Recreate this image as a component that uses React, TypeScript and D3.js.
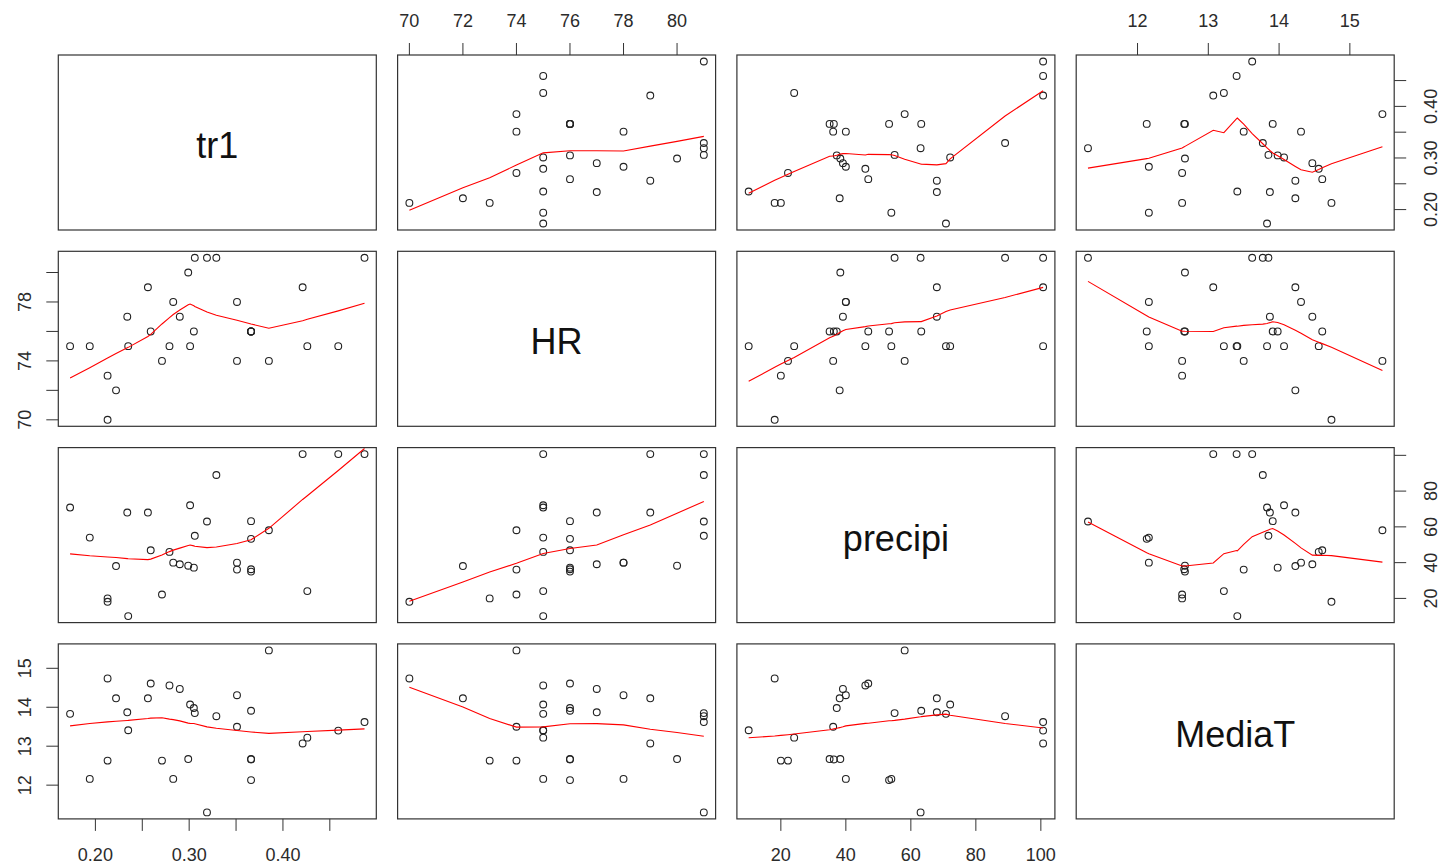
import React from 'react';
import * as d3 from 'd3';

const width = 1442;
const height = 868;

// variables of the scatterplot matrix
const varNames = ['tr1', 'HR', 'precipi', 'MediaT'];

const tr1 = [0.173, 0.194, 0.213, 0.213, 0.222, 0.234, 0.235, 0.256, 0.259, 0.271, 0.279, 0.283, 0.29, 0.299, 0.301,
  0.305, 0.306, 0.319, 0.329, 0.351, 0.351, 0.366, 0.366, 0.366, 0.366, 0.385, 0.421, 0.426, 0.459, 0.487];
const HR = [75, 75, 70, 73, 72, 77, 75, 79, 76, 74, 75, 78, 77, 80, 75,
  76, 81, 81, 81, 78, 74, 76, 76, 76, 76, 74, 79, 75, 75, 81];
const precipi = [70.8, 54.0, 18.1, 20.0, 38.1, 68.0, 10.1, 68.0, 46.9, 22.2, 46.0, 40.0, 39.1, 38.3, 72.1,
  37.2, 55.0, 63.0, 89.0, 40.0, 36.1, 63.2, 35.0, 36.3, 53.3, 58.1, 100.7, 24.1, 100.7, 100.7];
const MediaT = [13.83, 12.16, 14.74, 12.63, 14.23, 13.87, 13.41, 14.23, 14.61, 12.63, 14.56, 12.16, 14.47, 12.67, 14.07,
  13.98, 13.85, 11.3, 13.77, 14.31, 13.5, 13.91, 12.67, 12.66, 12.13, 15.46, 13.07, 13.22, 13.4, 13.62];

// tick positions and which of them carry a label (R drops the crowded ones)
const tr1Ticks = [0.2, 0.25, 0.3, 0.35, 0.4, 0.45];
const tr1Labeled = [0.2, 0.3, 0.4];
const HRTicks = [70, 72, 74, 76, 78, 80];
const HRTopLabeled = [70, 72, 74, 76, 78, 80];
const HRLeftLabeled = [70, 74, 78];
const precipTicks = [20, 40, 60, 80, 100];
const precipBottomLabeled = [20, 40, 60, 80, 100];
const precipRightLabeled = [20, 40, 60, 80];
const MediaTTicks = [12, 13, 14, 15];
const MediaTLabeled = [12, 13, 14, 15];

const columns = [tr1, HR, precipi, MediaT];
const fmt = [d3.format('.2f'), d3.format('d'), d3.format('d'), d3.format('d')];

// layout
const left0 = 58.3;
const top0 = 55;
const panelW = 318;
const panelH = 175;
const gap = 21.3;
const tickLen = 12;
const font = 'Liberation Sans, Arial, Helvetica, sans-serif';
const textColor = '#2b2b2b';

// port of R's clowess (stats::lowess), used by panel.smooth
function lowess(xIn: number[], yIn: number[], f = 2 / 3, nsteps = 3): [number, number][] {
  const idx = d3.range(xIn.length).sort((a, b) => xIn[a] - xIn[b] || a - b);
  const n = idx.length;
  const x = [0, ...idx.map(i => xIn[i])];
  const y = [0, ...idx.map(i => yIn[i])];
  const ys = new Array(n + 1).fill(0);
  const rw = new Array(n + 1).fill(1);
  const w = new Array(n + 1).fill(0);
  const res = new Array(n + 1).fill(0);
  const range = x[n] - x[1];
  const delta = 0.01 * range;
  const ns = Math.max(2, Math.min(n, Math.floor(f * n + 1e-7)));

  const lowest = (xs: number, nleft: number, nright: number, userw: boolean) => {
    const h = Math.max(xs - x[nleft], x[nright] - xs);
    const h9 = 0.999 * h;
    const h1 = 0.001 * h;
    let a = 0;
    let j = nleft;
    while (j <= n) {
      w[j] = 0;
      const r = Math.abs(x[j] - xs);
      if (r <= h9) {
        w[j] = r <= h1 ? 1 : Math.pow(1 - Math.pow(r / h, 3), 3);
        if (userw) w[j] *= rw[j];
        a += w[j];
      } else if (x[j] > xs) break;
      j++;
    }
    const nrt = j - 1;
    if (a <= 0) return null;
    for (j = nleft; j <= nrt; j++) w[j] /= a;
    if (h > 0) {
      a = 0;
      for (j = nleft; j <= nrt; j++) a += w[j] * x[j];
      let b = xs - a;
      let c = 0;
      for (j = nleft; j <= nrt; j++) c += w[j] * (x[j] - a) * (x[j] - a);
      if (Math.sqrt(c) > 0.001 * range) {
        b /= c;
        for (j = nleft; j <= nrt; j++) w[j] *= b * (x[j] - a) + 1;
      }
    }
    let out = 0;
    for (j = nleft; j <= nrt; j++) out += w[j] * y[j];
    return out;
  };

  let iter = 1;
  while (iter <= nsteps + 1) {
    let nleft = 1;
    let nright = ns;
    let last = 0;
    let i = 1;
    for (;;) {
      if (nright < n) {
        const d1 = x[i] - x[nleft];
        const d2 = x[nright + 1] - x[i];
        if (d1 > d2) {
          nleft++;
          nright++;
          continue;
        }
      }
      const v = lowest(x[i], nleft, nright, iter > 1);
      ys[i] = v === null ? y[i] : v;
      if (last < i - 1) {
        const denom = x[i] - x[last];
        for (let j = last + 1; j < i; j++) {
          const alpha = (x[j] - x[last]) / denom;
          ys[j] = alpha * ys[i] + (1 - alpha) * ys[last];
        }
      }
      last = i;
      const cut = x[last] + delta;
      for (i = last + 1; i <= n; i++) {
        if (x[i] > cut) break;
        if (x[i] === x[last]) {
          ys[i] = ys[last];
          last = i;
        }
      }
      i = Math.max(last + 1, i - 1);
      if (last >= n) break;
    }
    for (let k = 1; k <= n; k++) res[k] = y[k] - ys[k];
    if (iter > nsteps) break;
    const sc = d3.mean(res.slice(1), r => Math.abs(r)) as number;
    const sorted = res.slice(1).map(Math.abs).sort((a, b) => a - b);
    const m1 = Math.floor(n / 2);
    const cmad = n % 2 === 0 ? 3 * (sorted[m1] + sorted[n - m1 - 1]) : 6 * sorted[m1];
    if (cmad < 1e-7 * sc) break;
    const c9 = 0.999 * cmad;
    const c1 = 0.001 * cmad;
    for (let k = 1; k <= n; k++) {
      const r = Math.abs(res[k]);
      rw[k] = r <= c1 ? 1 : r <= c9 ? Math.pow(1 - Math.pow(r / cmad, 2), 2) : 0;
    }
    iter++;
  }
  return d3.range(1, n + 1).map(k => [x[k], ys[k]] as [number, number]);
}

const colLeft = (j: number) => left0 + j * (panelW + gap);
const rowTop = (i: number) => top0 + i * (panelH + gap);

// R pairs: each axis spans the data range extended by 4%
const domains = columns.map(col => {
  const [lo, hi] = d3.extent(col) as [number, number];
  const pad = (hi - lo) * 0.04;
  return [lo - pad, hi + pad];
});
const xScale = (j: number) => d3.scaleLinear().domain(domains[j]).range([colLeft(j), colLeft(j) + panelW]);
const yScale = (i: number) => d3.scaleLinear().domain(domains[i]).range([rowTop(i) + panelH, rowTop(i)]);

const lineGen = d3.line();

const TopAxis = ({ j, ticks, labeled }: { j: number; ticks: number[]; labeled: number[] }) => {
  const s = xScale(j);
  const y0 = rowTop(0);
  return (
    <g>
      {ticks.map(t => (
        <line key={t} x1={s(t)} x2={s(t)} y1={y0} y2={y0 - tickLen} stroke="#333" />
      ))}
      {labeled.map(t => (
        <text key={'l' + t} x={s(t)} y={y0 - 28} textAnchor="middle" fontSize={18} fill={textColor}>
          {fmt[j](t)}
        </text>
      ))}
    </g>
  );
};

const BottomAxis = ({ j, ticks, labeled }: { j: number; ticks: number[]; labeled: number[] }) => {
  const s = xScale(j);
  const y0 = rowTop(3) + panelH;
  return (
    <g>
      {ticks.map(t => (
        <line key={t} x1={s(t)} x2={s(t)} y1={y0} y2={y0 + tickLen} stroke="#333" />
      ))}
      {labeled.map(t => (
        <text key={'l' + t} x={s(t)} y={y0 + 42.5} textAnchor="middle" fontSize={18} fill={textColor}>
          {fmt[j](t)}
        </text>
      ))}
    </g>
  );
};

const LeftAxis = ({ i, ticks, labeled }: { i: number; ticks: number[]; labeled: number[] }) => {
  const s = yScale(i);
  const x0 = colLeft(0);
  return (
    <g>
      {ticks.map(t => (
        <line key={t} x1={x0} x2={x0 - tickLen} y1={s(t)} y2={s(t)} stroke="#333" />
      ))}
      {labeled.map(t => (
        <text key={'l' + t} transform={`translate(${x0 - 27.5},${s(t)}) rotate(-90)`} textAnchor="middle"
          fontSize={18} fill={textColor}>
          {fmt[i](t)}
        </text>
      ))}
    </g>
  );
};

const RightAxis = ({ i, ticks, labeled }: { i: number; ticks: number[]; labeled: number[] }) => {
  const s = yScale(i);
  const x0 = colLeft(3) + panelW;
  return (
    <g>
      {ticks.map(t => (
        <line key={t} x1={x0} x2={x0 + tickLen} y1={s(t)} y2={s(t)} stroke="#333" />
      ))}
      {labeled.map(t => (
        <text key={'l' + t} transform={`translate(${x0 + 42.5},${s(t)}) rotate(-90)`} textAnchor="middle"
          fontSize={18} fill={textColor}>
          {fmt[i](t)}
        </text>
      ))}
    </g>
  );
};

const Panel = ({ i, j }: { i: number; j: number }) => {
  const x0 = colLeft(j);
  const y0 = rowTop(i);
  if (i === j) {
    return (
      <g>
        <rect x={x0} y={y0} width={panelW} height={panelH} fill="none" stroke="#333" strokeWidth={1.2} />
        <text x={x0 + panelW / 2} y={y0 + panelH / 2 + 3} textAnchor="middle" dominantBaseline="central"
          fontSize={36} fill="#111">
          {varNames[i]}
        </text>
      </g>
    );
  }
  const sx = xScale(j);
  const sy = yScale(i);
  const xs = columns[j];
  const ys = columns[i];
  const smooth = lowess(xs, ys).map(([a, b]) => [sx(a), sy(b)] as [number, number]);
  return (
    <g>
      {xs.map((v, k) => (
        <circle key={k} cx={sx(v)} cy={sy(ys[k])} r={3.4} fill="none" stroke="#222" strokeWidth={1.1} />
      ))}
      <path d={lineGen(smooth) || ''} fill="none" stroke="#ff0000" strokeWidth={1.1} />
      <rect x={x0} y={y0} width={panelW} height={panelH} fill="none" stroke="#333" strokeWidth={1.2} />
    </g>
  );
};

export default function App() {
  const cells: [number, number][] = [];
  for (let i = 0; i < 4; i++) for (let j = 0; j < 4; j++) cells.push([i, j]);
  return (
    <div style={{ position: 'fixed', left: 0, top: 0 }}>
      <svg width={width} height={height} style={{ display: 'block', background: '#fff', fontFamily: font }}>
        {cells.map(([i, j]) => (
          <Panel key={`${i}-${j}`} i={i} j={j} />
        ))}
        <TopAxis j={1} ticks={HRTicks} labeled={HRTopLabeled} />
        <TopAxis j={3} ticks={MediaTTicks} labeled={MediaTLabeled} />
        <BottomAxis j={0} ticks={tr1Ticks} labeled={tr1Labeled} />
        <BottomAxis j={2} ticks={precipTicks} labeled={precipBottomLabeled} />
        <LeftAxis i={1} ticks={HRTicks} labeled={HRLeftLabeled} />
        <LeftAxis i={3} ticks={MediaTTicks} labeled={MediaTLabeled} />
        <RightAxis i={0} ticks={tr1Ticks} labeled={tr1Labeled} />
        <RightAxis i={2} ticks={precipTicks} labeled={precipRightLabeled} />
      </svg>
    </div>
  );
}
